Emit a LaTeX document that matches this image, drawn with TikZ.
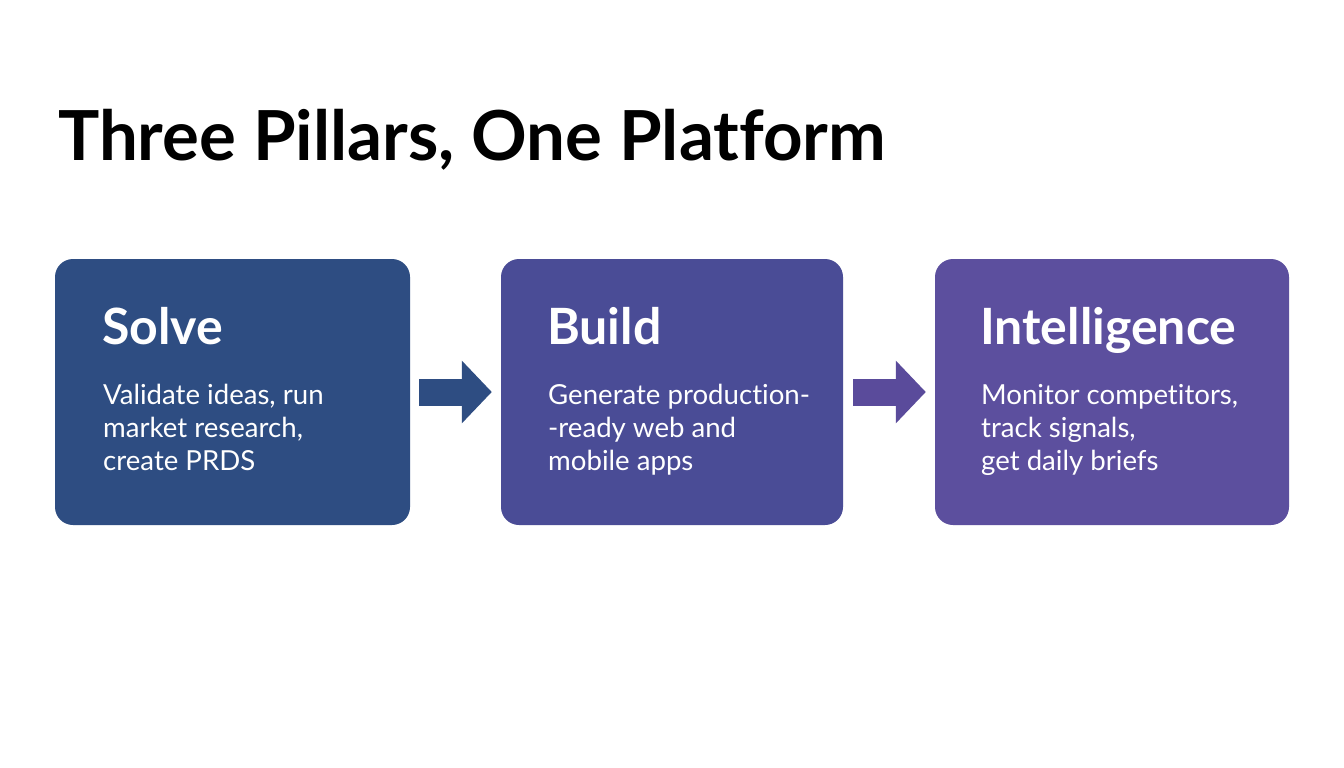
\documentclass[tikz,border=0pt]{standalone}
\usepackage{fontspec}
\setmainfont{Lato}[Ligatures=NoCommon]
\usetikzlibrary{arrows.meta}
\definecolor{cSolve}{HTML}{2E4D82}
\definecolor{cBuild}{HTML}{4A4C96}
\definecolor{cIntel}{HTML}{5C4F9E}
\definecolor{aOne}{HTML}{2E4D82}
\definecolor{aTwo}{HTML}{5A4B9B}
\tikzset{
  pillar/.style={rectangle, rounded corners=18pt, minimum height=266pt, inner sep=0pt, draw=none},
  head/.style={anchor=base west, inner sep=0pt, text=white, font=\fontsize{50}{54}\selectfont\bfseries},
  body/.style={anchor=base west, inner sep=0pt, text=white, font=\fontsize{27.6}{33}\selectfont, align=left},
  bigarrow/.style={line width=27pt, -{Triangle[length=30pt, width=61pt]}},
}
\begin{document}
\begin{tikzpicture}[x=1pt, y=-1pt]
\useasboundingbox[fill=white] (0,0) rectangle (1344,768);
\node[anchor=base west, inner sep=0pt, font=\fontsize{69}{74}\selectfont\bfseries] (title) at (58,160) {Three Pillars, One Platform};

\node[pillar, fill=cSolve, minimum width=355pt] (s) at (232.5,392) {};
\node[pillar, fill=cBuild, minimum width=342pt] (b) at (672,392) {};
\node[pillar, fill=cIntel, minimum width=354pt] (i) at (1112,392) {};

\node[head] (sh) at (102,344) {Solve};
\node[body] (s1) at (103,404) {Validate ideas, run};
\node[body] (s2) at (103,437) {market research,};
\node[body] (s3) at (103,470) {create PRDS};

\node[head] (bh) at (547,344) {Build};
\node[body] (b1) at (548,404) {Generate production-};
\node[body] (b2) at (548,437) {-ready web and};
\node[body] (b3) at (548,470) {mobile apps};

\node[head] (ih) at (980,344) {Intelligence};
\node[body] (i1) at (981,404) {Monitor competitors,};
\node[body] (i2) at (981,437) {track signals,};
\node[body] (i3) at (981,470) {get daily briefs};

\draw[bigarrow, aOne] ([xshift=9pt]s.east) -- ([xshift=-9pt]b.west);
\draw[bigarrow, aTwo] ([xshift=10pt]b.east) -- ([xshift=-9pt]i.west);
\end{tikzpicture}
\end{document}
